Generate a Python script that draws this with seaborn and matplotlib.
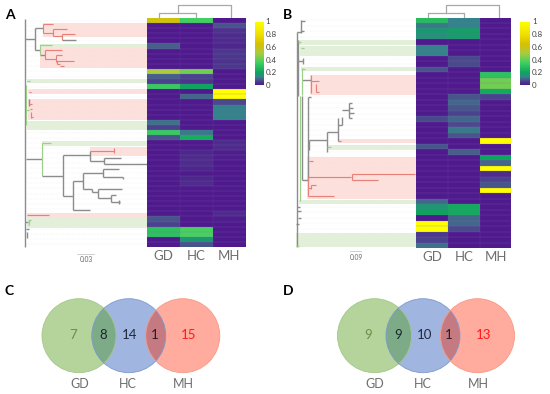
import matplotlib
matplotlib.use("Agg")
import matplotlib.pyplot as plt
import seaborn as sns
import pandas as pd
from matplotlib.colors import LinearSegmentedColormap
from matplotlib.patches import Circle, Rectangle

columns = ["GD", "HC", "MH"]
cbar_ticks = [0, 0.2, 0.4, 0.6, 0.8, 1]
cbar_labels = ["0", "0.2", "0.4", "0.6", "0.8", "1"]

# heatmap values, panel A
gd_a = [.62, 0, 0, 0, 0, .09, 0, 0, 0, 0, .5, .09, .06, .33, 0, 0, 0, 0, 0, 0, .11, .06, .33,
        .08, 0, 0, 0, 0, 0, 0, 0, 0, 0, 0, 0, 0, 0, 0, 0, .08, .06, .3, .3, 0, 0]
hc_a = [.35, 0, 0, 0, 0, 0, 0, 0, 0, 0, .42, .06, .04, .2, 0, .1, 0, 0, 0, 0, 0, 0, .12,
        .23, 0, 0, .02, .03, .03, .02, 0, .02, .03, 0, 0, 0, 0, 0, 0, 0, 0, .36, .36, .17, .08]
mh_a = [0, .08, .04, .03, .03, .02, .05, .05, .04, .05, 0, 0, 0, 0, 1, 1, .07, .13, .13, .13, 0, 0, 0,
        0, .03, .03, .01, .01, 0, 0, 0, 0, 0, 0, 0, 0, 0, 0, .03, .01, 0, 0, 0, 0, 0]

# heatmap values, panel B
gd_b = [.28, .12, .17, .16, 0, .13, .13, 0, 0, .08, 0, 0, 0, 0, 0, 0, 0, 0, .07, 0, 0, 0,
        0, .08, 0, 0, 0, 0, 0, 0, 0, 0, 0, .1, .17, .2, 0, 1, 1, .05, .06, .11]
hc_b = [.13, .13, .18, .18, 0, 0, 0, .07, .07, 0, 0, 0, 0, 0, .08, .1, .08, .06, .1, .07, .12, .08,
        0, 0, .09, 0, 0, 0, 0, 0, 0, 0, 0, 0, .22, .22, .1, .1, .07, 0, 0, 0]
mh_b = [0, 0, 0, 0, 0, 0, 0, 0, 0, 0, .3, .42, .42, .22, .06, 0, 0, 0, 0, 0, 0, 0,
        1, 0, 0, .2, .1, 1, .03, .06, .08, 1, 0, 0, 0, 0, 0, 0, 0, 0, 0, 0]

# tree branches, panel A (x0, y0, x1, y1)
tree_a_gray = [(25, 19, 25, 247), (25, 39, 35, 39), (35, 28, 35, 50), (35, 28, 43, 28), (62, 39.5, 76, 39.5),
               (35, 50, 40, 50), (40, 54.5, 44.5, 54.5), (26, 159.3, 42, 159.3), (42, 175.5, 62.5, 175.5),
               (62.5, 155.3, 90, 155.3), (90, 161.3, 104, 161.3), (104, 158.3, 120.5, 158.3),
               (104, 163.7, 146.5, 163.7), (104, 158.3, 104, 163.7), (90, 150.5, 90, 161.3),
               (62.5, 195.7, 72.5, 195.7), (72.5, 180.7, 72.5, 210), (72.5, 180.7, 83, 180.7),
               (83, 172.7, 83, 189), (83, 172.7, 103, 172.7), (103, 168.7, 103, 176.7), (103, 168.7, 119, 168.7),
               (103, 176.7, 123, 176.7), (123, 176.7, 123, 179), (83, 189, 92, 189), (92, 189, 92, 192),
               (92, 192, 98, 192), (98, 189.3, 98, 198.3), (98, 189.3, 122, 189.3), (98, 198.3, 111, 198.3),
               (111, 194.7, 111, 202), (111, 194.7, 115.6, 194.7), (111, 202, 120, 202), (119, 200, 119, 204),
               (72.5, 210, 89.5, 210), (62.5, 155.3, 62.5, 195.7), (25, 222, 28, 222), (26, 229, 29, 229),
               (27, 232, 27, 238), (29, 99, 29, 106)]
tree_a_red = [(43, 24, 43, 33), (43, 24, 53, 24), (43, 33, 53, 33), (53, 29, 53, 36), (53, 29, 67, 29),
              (53, 35.5, 62, 35.5), (62, 34, 62, 39.5), (62, 34, 75, 34), (44.5, 50, 44.5, 59), (44.5, 50, 61.5, 50),
              (44.5, 59, 56, 59), (56, 55, 56, 62), (56, 55, 62, 55), (56, 60.5, 73.5, 60.5), (57, 60.5, 57, 64),
              (57, 64, 60, 64), (60, 65.5, 64, 65.5), (90, 150.5, 113.5, 150.5), (113.5, 148, 113.5, 153),
              (27, 215, 49, 215), (29, 92, 31, 92), (29, 104, 32, 104), (30, 109, 32, 109), (31, 112, 31, 118),
              (31, 117, 33, 117)]
tree_a_green = [(26, 85, 26, 125), (35, 35, 35, 35), (40, 45, 40, 54.5), (40, 45, 52, 45), (42, 143, 42, 175.5),
                (42, 143, 51, 143), (27, 81, 30, 81), (26, 110, 29, 110), (28, 220, 31, 220), (30, 220, 29, 226)]

# shaded clades, panel A (x0, y0, y1)
bands_a_pink = [(43, 23, 37), (40, 48, 68), (28, 89, 93.5), (28, 99, 120), (90, 147, 155.7), (27, 213, 218)]
bands_a_green = [(40, 43.5, 47.5), (27, 79, 83), (27, 121, 130), (42, 140.7, 145.7), (27, 218, 228)]

# tree branches, panel B
tree_b_gray = [(296.5, 32, 296.5, 247), (296.5, 32, 300.5, 32), (300.5, 20, 300.5, 33), (300.5, 20.5, 305, 20.5),
               (300.5, 31, 304, 31), (298, 40, 298, 96), (298, 61, 303, 61), (303, 58, 303, 64), (301.5, 80, 310.5, 80),
               (301.5, 96, 301.5, 180), (301.5, 180, 307.5, 180), (307.5, 97, 307.5, 180), (307.5, 97, 310.5, 97),
               (309, 140, 309, 150), (309, 140, 327, 140), (327, 132, 327, 152), (327, 132, 338, 132),
               (338, 118, 338, 141), (338, 125, 342, 125), (342, 117, 342, 125), (342, 110, 349, 110), (349, 103, 349, 118),
               (349, 103, 352, 103), (349, 108, 353, 108), (349, 113, 354, 113), (349, 118, 352, 118),
               (297, 207, 300, 207), (297, 211, 301, 211), (298, 218, 301, 218), (296, 224, 299, 224)]
tree_b_red = [(310.5, 75, 310.5, 93), (310.5, 80.5, 319, 80.5), (316, 92, 319, 92), (316, 84, 316, 92),
              (307.5, 177, 351, 177), (351.5, 174, 351.5, 180), (351.5, 174, 415, 174), (351.5, 179.7, 378, 179.7),
              (307.5, 177, 307.5, 196), (307.5, 188, 311, 188), (311, 185, 311, 189), (311, 185, 316, 185),
              (307.5, 196, 334, 196), (309, 161, 313, 161), (338, 141, 341, 141)]
tree_b_green = [(301.5, 68, 301.5, 95), (299.5, 96, 299.5, 201), (298, 42, 301, 42), (301, 48, 304, 48),
                (327, 147, 331, 147), (296, 246, 299, 246), (301.5, 69, 305, 69)]

# shaded clades, panel B
bands_b_pink = [(310, 74.5, 94.5), (338, 139, 143), (307, 157, 198.5)]
bands_b_green = [(298, 39.5, 44.5), (300, 46, 55.5), (301, 66.5, 71), (328, 145, 150), (299, 200, 204), (296, 232.5, 247)]

# venn counts
venn_c = [7, 8, 14, 1, 15]
venn_d = [9, 9, 10, 1, 13]

plt.rcParams["font.family"] = ["Lato", "DejaVu Sans"]

heat_cmap = LinearSegmentedColormap.from_list("heat", [
    (0, "#4f1a8c"), (.05, "#4b3a8c"), (.09, "#46608a"), (.13, "#33858a"), (.2, "#0ba65c"),
    (.35, "#3fd060"), (.5, "#a8cc40"), (.65, "#d8c000"), (.8, "#f0e000"), (1, "#ffff00")])

W, H = 550, 394
fig = plt.figure(figsize=(W / 100, H / 100), dpi=100)

bg = fig.add_axes([0, 0, 1, 1])
bg.set_xlim(0, W)
bg.set_ylim(H, 0)
bg.axis("off")


def pixel_axes(x0, y0, x1, y1):
    return fig.add_axes([x0 / W, 1 - y1 / H, (x1 - x0) / W, (y1 - y0) / H])


def draw_heat(gd, hc, mh, box, cbox):
    ax = pixel_axes(*box)
    cax = pixel_axes(*cbox)
    table = pd.DataFrame({"GD": gd, "HC": hc, "MH": mh}, columns=columns)
    sns.heatmap(table, ax=ax, cbar_ax=cax, cmap=heat_cmap, vmin=0, vmax=1, yticklabels=False,
                linewidths=0, rasterized=True, cbar_kws={"ticks": cbar_ticks})
    # faint cell borders
    ax.hlines(range(1, len(gd)), 0, 3, color="#8a68b8", lw=.3, alpha=.55)
    ax.vlines([1, 2], 0, len(gd), color="#8a68b8", lw=.3, alpha=.35)
    ax.tick_params(axis="x", length=0, pad=2, labelsize=9.5, labelcolor="#6e6e6e")
    cax.set_yticklabels(cbar_labels)
    cax.tick_params(length=0, pad=1.5, labelsize=5.8, labelcolor="#444444")
    for s in cax.spines.values():
        s.set_visible(False)


def draw_tree(gray, red, green, pink, lime, box, n_rows, tip_x):
    top, bottom, right = box[1], box[3], box[0]
    step = (bottom - top) / n_rows
    rows = [top + step * (i + .5) for i in range(n_rows)]
    bg.hlines(rows, tip_x, right, color="#e6e6e6", lw=.35, ls=(0, (1, 2)), zorder=1)
    for x0, y0, y1 in pink:
        bg.add_patch(Rectangle((x0, y0), right - x0, y1 - y0, fc="#fde0dc", ec="none", zorder=0))
    for x0, y0, y1 in lime:
        bg.add_patch(Rectangle((x0, y0), right - x0, y1 - y0, fc="#e2f0d9", ec="none", zorder=0))
    for segs, color, lw in [(gray, "#8c8c8c", 1.0), (red, "#e8807a", .85), (green, "#9ccf88", .85)]:
        for x0, y0, x1, y1 in segs:
            bg.plot([x0, x1], [y0, y1], color=color, lw=lw, solid_capstyle="butt", zorder=2)


def draw_dendro(c0, c1, c2):
    mid = (c0 + c1) / 2
    for xs, ys in [([c0, c0, c1, c1], [18, 13.3, 13.3, 18]), ([mid, mid, c2, c2], [13.3, 5, 5, 18])]:
        bg.plot(xs, ys, color="#a8a8a8", lw=.9, zorder=2)


def draw_venn(centers, values, ty, text_x, label_x):
    r = 37
    fills = ["#9cc67a", "#809ed6", "#ff8f7c"]
    edges = ["#a4c78a", "#7e9ad0", "#f79a88"]
    for (cx, col) in zip(centers, fills):
        bg.add_patch(Circle((cx, ty), r, fc=col, ec="none", alpha=.75, zorder=1))
    for a, b, col in [(0, 1, "#7daa87"), (1, 2, "#c47a80")]:
        lens = Circle((centers[a], ty), r, fc=col, ec="none", zorder=2)
        bg.add_patch(lens)
        lens.set_clip_path(Circle((centers[b], ty), r, transform=bg.transData))
    for cx, ec in zip(centers, edges):
        bg.add_patch(Circle((cx, ty), r, fc="none", ec=ec, lw=.6, zorder=3))
    colors = ["#6b8f4a", "#1a2a2a", "#20283e", "#2a1a22", "#ff1a1a"]
    for x, v, c in zip(text_x, values, colors):
        bg.text(x, ty - 1, str(v), ha="center", va="center", fontsize=9.5, color=c, zorder=4)
    for x, name in zip(label_x, columns):
        bg.text(x, 384, name, ha="center", va="center", fontsize=9, color="#6e6e6e", zorder=4)


box_a = (146.7, 18, 245.5, 247)
box_b = (416, 17.5, 511.5, 248)

draw_tree(tree_a_gray, tree_a_red, tree_a_green, bands_a_pink, bands_a_green, box_a, len(gd_a), 27)
draw_tree(tree_b_gray, tree_b_red, tree_b_green, bands_b_pink, bands_b_green, box_b, len(gd_b), 300)
draw_heat(gd_a, hc_a, mh_a, box_a, (254.5, 21.5, 263.5, 85))
draw_heat(gd_b, hc_b, mh_b, box_b, (520, 21.5, 530, 85))
draw_dendro(159.3, 196, 230.7)
draw_dendro(427.7, 464, 499)

bg.plot([77, 94], [254.3, 254.3], color="#c8c8c8", lw=.6)
bg.text(86, 260, "0.03", ha="center", va="center", fontsize=4.8, color="#666666")
bg.plot([350, 361], [251, 251], color="#c8c8c8", lw=.6)
bg.text(356, 257, "0.09", ha="center", va="center", fontsize=4.8, color="#666666")

draw_venn([79, 128.8, 182.8], venn_c, 335.7, [73, 103, 130, 154.5, 189], [79.5, 128, 183.5])
draw_venn([374.5, 423, 477.5], venn_d, 335.7, [367.7, 397.7, 425, 449, 483.7], [374.3, 423, 478.7])

for x, y, letter in [(9.5, 15, "A"), (287.5, 15, "B"), (8.7, 290.7, "C"), (288, 290.7, "D")]:
    bg.text(x, y, letter, ha="center", va="center", fontsize=10, fontweight="bold", color="black")

fig.savefig("out.png", dpi=100)
